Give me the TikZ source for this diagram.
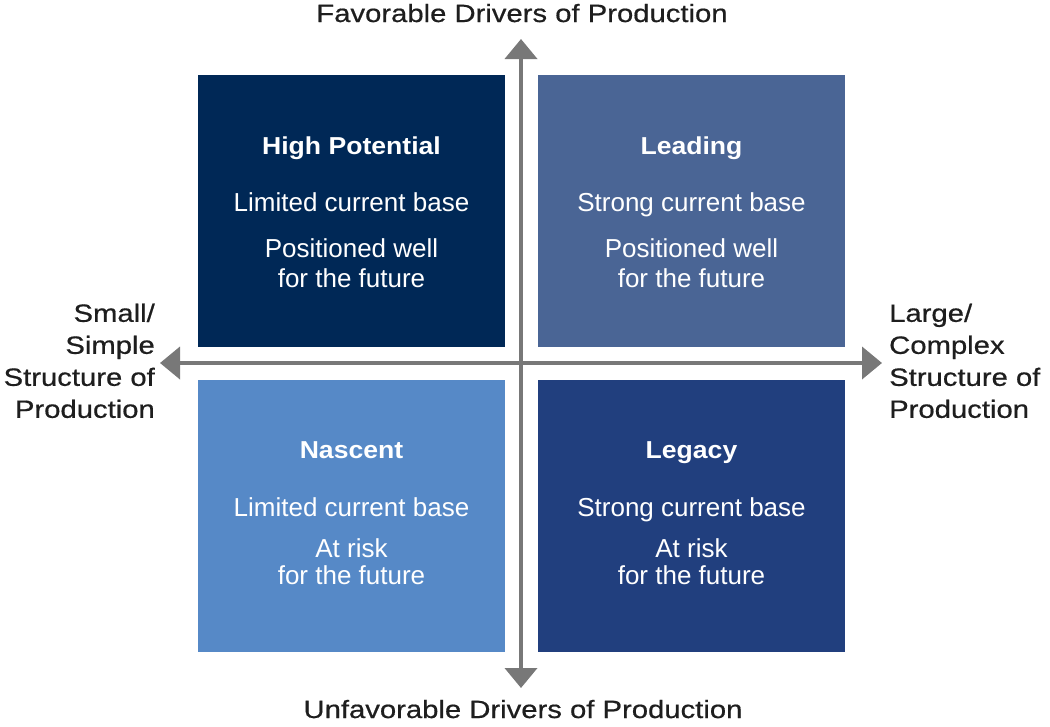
\documentclass[tikz,border=0pt]{standalone}
\usepackage{fontspec}
\setmainfont{Liberation Sans}
\newfontfamily\axisfont{Liberation Sans}[FakeStretch=1.17,FakeBold=0.6]
\newfontfamily\ttlfont{Liberation Sans}[FakeStretch=1.085]
\usetikzlibrary{arrows.meta}
\definecolor{cHP}{HTML}{002856}
\definecolor{cLD}{HTML}{4A6595}
\definecolor{cNA}{HTML}{5689C7}
\definecolor{cLG}{HTML}{213F7E}
\definecolor{axisgray}{HTML}{787878}
\definecolor{labelblack}{HTML}{1E1E1E}
\tikzset{
  quad/.style={draw=none, minimum width=307pt, minimum height=272pt, inner sep=0pt},
  qtitle/.style={text=white, anchor=base, inner sep=0pt, font=\ttlfont\bfseries\fontsize{24.5}{28}\selectfont},
  qbody/.style={text=white, anchor=base, inner sep=0pt, font=\fontsize{26}{30}\selectfont},
  axislabel/.style={text=labelblack, inner sep=0pt, font=\axisfont\fontsize{25}{32}\selectfont},
  axisline/.style={draw=axisgray, line width=4pt, {Triangle[length=20pt,width=32pt]}-{Triangle[length=20pt,width=32pt]}}
}
\begin{document}
\begin{tikzpicture}[x=1pt,y=-1pt]
\useasboundingbox (0,0) rectangle (1050,726);
% quadrants
\node[quad, fill=cHP] (hp) at (351.5,211) {};
\node[quad, fill=cLD] (ld) at (691.5,211) {};
\node[quad, fill=cNA] (na) at (351.5,515.5) {};
\node[quad, fill=cLG] (lg) at (691.5,515.5) {};
% axes
\coordinate (xl) at (160,363);
\coordinate (xr) at (882,363);
\coordinate (yt) at (521,39);
\coordinate (yb) at (521,688);
\draw[axisline] (xl) -- (xr);
\draw[axisline] (yt) -- (yb);
% quadrant texts
\node[qtitle] (hpT) at (351.5,154) {High Potential};
\node[qbody] (hpA) at (351.5,211) {Limited current base};
\node[qbody] (hpB) at (351.5,257) {Positioned well};
\node[qbody] (hpC) at (351.5,287) {for the future};
\node[qtitle] (ldT) at (691.5,154) {Leading};
\node[qbody] (ldA) at (691.5,211) {Strong current base};
\node[qbody] (ldB) at (691.5,257) {Positioned well};
\node[qbody] (ldC) at (691.5,287) {for the future};
\node[qtitle] (naT) at (351.5,458) {Nascent};
\node[qbody] (naA) at (351.5,516) {Limited current base};
\node[qbody] (naB) at (351.5,557) {At risk};
\node[qbody] (naC) at (351.5,584) {for the future};
\node[qtitle] (lgT) at (691.5,458) {Legacy};
\node[qbody] (lgA) at (691.5,516) {Strong current base};
\node[qbody] (lgB) at (691.5,557) {At risk};
\node[qbody] (lgC) at (691.5,584) {for the future};
% axis labels
\node[axislabel, anchor=base] (top) at (522,22) {Favorable Drivers of Production};
\node[axislabel, anchor=base] (bot) at (523,718) {Unfavorable Drivers of Production};
\node[axislabel, align=right, anchor=north east] (left) at (155,303.5) {Small/\\Simple\\Structure of\\Production};
\node[axislabel, align=left, anchor=north west] (right) at (889,303.5) {Large/\\Complex\\Structure of\\Production};
\end{tikzpicture}
\end{document}
